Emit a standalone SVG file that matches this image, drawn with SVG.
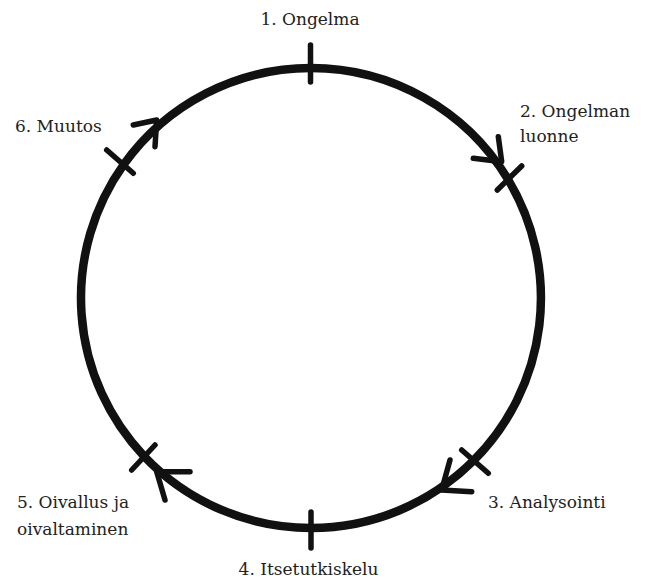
<svg xmlns="http://www.w3.org/2000/svg" width="649" height="585" viewBox="0 0 649 585">
  <style>
    .ring { fill: none; stroke: #111; stroke-width: 8.5; stroke-linecap: butt; }
    .chev { fill: none; stroke: #111; stroke-width: 5.5; stroke-linecap: round; stroke-linejoin: round; }
    .tick { stroke: #111; stroke-width: 5.5; stroke-linecap: round; }
    .label { font-family: "DejaVu Serif", serif; font-size: 17px; fill: #222; }
  </style>
  <rect width="649" height="585" fill="#fff"/>

  <!-- Cycle arcs (clockwise) with their arrow chevrons -->
  <g id="connectors">
    <path class="ring" d="M311,68 A230,230 0 0 1 507.7,178.9"/>
    <path class="ring" d="M507.7,178.9 A230,230 0 0 1 473.6,460.6"/>
    <path class="ring" d="M473.6,460.6 A230,230 0 0 1 311,528"/>
    <path class="ring" d="M311,528 A230,230 0 0 1 144.4,456.6"/>
    <path class="ring" d="M144.4,456.6 A230,230 0 0 1 123.8,164.4"/>
    <path class="ring" d="M123.8,164.4 A230,230 0 0 1 311,68"/>

    <polyline class="chev" points="473.3,158.3 501.7,161.7 498.3,136.7"/>
    <polyline class="chev" points="450,460 441.7,490 471.7,491.7"/>
    <polyline class="chev" points="190,471.7 156.7,471.7 165,500"/>
    <polyline class="chev" points="133.3,125 156.7,120 155,146.7"/>
  </g>

  <g id="stage1">
    <line class="tick" x1="310.5" y1="45" x2="310.5" y2="82"/>
    <text class="label" x="310" y="25" text-anchor="middle">1. Ongelma</text>
  </g>

  <g id="stage2">
    <line class="tick" x1="497.3" y1="190" x2="521.7" y2="166"/>
    <text class="label" x="520" y="117">2. Ongelman</text>
    <text class="label" x="520" y="142">luonne</text>
  </g>

  <g id="stage3">
    <line class="tick" x1="461.7" y1="450" x2="488.3" y2="473.3"/>
    <text class="label" x="488" y="508">3. Analysointi</text>
  </g>

  <g id="stage4">
    <line class="tick" x1="311" y1="512" x2="311" y2="548"/>
    <text class="label" x="308.5" y="575" text-anchor="middle">4. Itsetutkiskelu</text>
  </g>

  <g id="stage5">
    <line class="tick" x1="131.7" y1="470" x2="155" y2="445"/>
    <text class="label" x="17" y="508">5. Oivallus ja</text>
    <text class="label" x="17" y="535">oivaltaminen</text>
  </g>

  <g id="stage6">
    <line class="tick" x1="106.7" y1="150" x2="133.3" y2="173.3"/>
    <text class="label" x="15" y="132">6. Muutos</text>
  </g>
</svg>
